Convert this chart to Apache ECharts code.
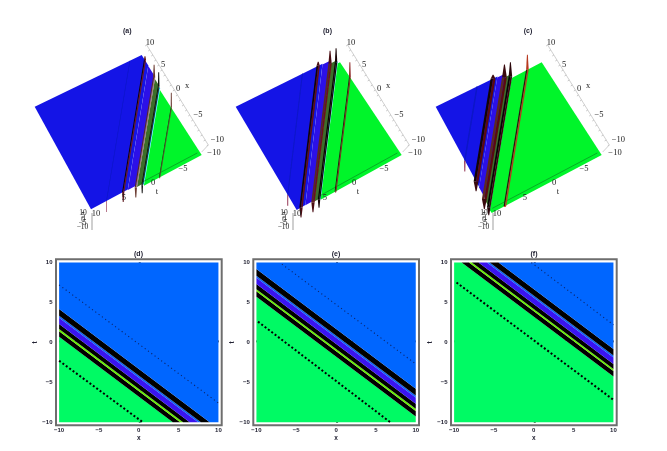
<!DOCTYPE html>
<html><head><meta charset="utf-8">
<style>html,body{margin:0;padding:0;background:#fff}#c{width:667px;height:451px}</style>
<script src="https://cdn.jsdelivr.net/npm/echarts@6/dist/echarts.min.js"></script>
</head><body><div id="c"></div>
<script>
// ---- data ----
const surfaceTitles = ['(a)','(b)','(c)'];
const contourTitles = ['(d)','(e)','(f)'];
const tickLabels = [-10,-5,0,5,10];
const allTicks = [-10,-9,-8,-7,-6,-5,-4,-3,-2,-1,0,1,2,3,4,5,6,7,8,9,10];
const waveSlope = -0.75;
const waveShift = [0,5,10];
// contour bands: t at x=-10 for panel (d)
const bandLow  = [-60,0.71,1.40,1.67,2.30,3.10,3.35,4.18];
const bandHigh = [0.71,1.40,1.67,2.30,3.10,3.35,4.18,60];
const bandColor= ['#00fa64','#000000','#66f000','#000000','#3a14f0','#0a62f5','#000000','#0066ff'];
const dotUpper = [[[-10,7.2],[10,-7.6]],[[-6.8,9.8],[10,-2.7]],[[-0.3,10],[10,2.2]]];
const dotLower = [[[-10,-2.3],[0.5,-10]],[[-9.8,2.6],[6.8,-10]],[[-9.7,7.5],[10,-7.2]]];
// surface regions
const surfLow  = [-60,0.45,0.71,1.70,3.35];
const surfHigh = [0.45,0.71,1.70,3.35,60];
const surfLift = [0,0.3,0.5,0.9,1];
const surfColor= ['#00f52a','#10c8f0','#3c6e2a','#2c10e8','#1414e6'];
// crests on the surface
const crestT     = [7.2,4.18,1.9,0.75,-2.4];
const crestLift  = [1,1,0.5,0.3,0];
const crestLeft  = ['#0c18c0','#120404','#5a2a22','#050505','#2a1210'];
const crestRight = [
 ['#0c18c0','#701a20','#a08070','#101010','#6a3a30'],
 ['#0c18c0','#601016','#6a1418','#180406','#8a2020'],
 ['#0c18c0','#5a0a10','#5a0a10','#3a080c','#b83a20']];
const crestTip   = [
 ['#8a2244','#5a1218','#6a3a30','#101010','#6a3a30'],
 ['#8a2244','#4a0c12','#4a0c12','#180406','#8a2020'],
 ['#8a2244','#3a0a0e','#3a0a0e','#2a060a','#b83a20']];
const crestWidth = [0.3,1.1,1.1,0.8,0.6];
const crestRise  = [0,4,13,14,15];
const crestDrop  = [11,10,10,8,1];

// ---- view setup ----
const greenCorners = [
 {R:[201.7,155],T:[141.7,61.7],B:[91,213.7],L:[31,120.4]},
 {R:[401.7,155],T:[340,62.3],B:[296.7,213],L:[235,120.3]},
 {R:[601.7,155],T:[541.7,62.3],B:[491.7,213],L:[431.7,120.3]}];
const blueCorners = [
 {R:[201.7,150],T:[141.7,55],B:[91,209.3],L:[34.7,106.7]},
 {R:[401.7,150],T:[340,55],B:[296.7,210],L:[235.7,106.7]},
 {R:[601.7,150],T:[541.7,55],B:[491.7,210],L:[435.7,106.7]}];
const panelShift = [0,201,401];
const crestScale = [1,1.5,2.2];
const titleX3d = [127.3,327.5,528];
const titleX2d = [138.5,336,534];
const grid2d = [[56,165.7],[253.3,165.7],[451,165.7]];

function project(p,x,t,lift){
  const u=(x+10)/20,v=(t+10)/20;
  const mix=c=>[0,1].map(i=>(1-v)*((1-u)*c.R[i]+u*c.T[i])+v*((1-u)*c.B[i]+u*c.L[i]));
  const g=mix(greenCorners[p]),b=mix(blueCorners[p]);
  return [g[0]+(b[0]-g[0])*lift,g[1]+(b[1]-g[1])*lift];
}
function clipHalf(pts,inside,cross){
  const out=[];
  pts.forEach((a,i)=>{
    const b=pts[(i+1)%pts.length],ia=inside(a),ib=inside(b);
    if(ia)out.push(a);
    if(ia!==ib)out.push(cross(a,b));
  });
  return out;
}
function clipBox(pts){
  const lim=[[0,-10,1],[0,10,-1],[1,-10,1],[1,10,-1]];
  lim.forEach(([k,val,s])=>{
    if(!pts.length)return;
    pts=clipHalf(pts,a=>(a[k]-val)*s>=0,(a,b)=>{
      const f=(val-a[k])/(b[k]-a[k]);
      return [a[0]+(b[0]-a[0])*f,a[1]+(b[1]-a[1])*f];
    });
  });
  return pts;
}
function bandPolygon(lo,hi,shift){
  const at=(a,x)=>a+shift+waveSlope*(x+10);
  const xa=-60,xb=60;
  return clipBox([[xa,at(lo,xa)],[xb,at(lo,xb)],[xb,at(hi,xb)],[xa,at(hi,xa)]]);
}
function crestRange(a){ // x range of t=a+slope(x+10) inside the square
  const xAt=t=>(t-a)/waveSlope-10;
  return [Math.max(-10,xAt(10)),Math.min(10,xAt(-10))];
}

const series=[],grids=[],xAxes=[],yAxes=[],titles=[];
const FONT2D='"Liberation Sans"',FONT3D='"Liberation Serif"';
// contour panels
waveShift.forEach((shift,p)=>{
  grids.push({left:grid2d[p][0],width:grid2d[p][1],top:259.3,height:166,show:true,backgroundColor:'#fff',borderColor:'#6e6e6e',borderWidth:2});
  const ax=(name,gap,rot,margin)=>({type:'value',gridIndex:p,min:-10.39,max:10.41,name,nameLocation:'middle',nameGap:gap,nameRotate:rot,
    nameTextStyle:{fontFamily:FONT2D,fontSize:6.5,fontWeight:'bold',color:'#223'},
    splitLine:{show:false},axisLine:{show:false},
    axisTick:{show:true,inside:true,length:2,customValues:allTicks,lineStyle:{color:'#666',width:1}},
    axisLabel:{show:true,margin,customValues:tickLabels,fontFamily:FONT2D,fontSize:6,fontWeight:'bold',color:'#223',
      formatter:v=>String(v).replace('-','\u2212')}});
  xAxes.push(ax('x',9.5,0,2));
  yAxes.push(ax('t',15,90,3.5));
  series.push({type:'custom',xAxisIndex:p,yAxisIndex:p,silent:true,animation:false,z:2,
    data:bandLow.map((l,i)=>[l,bandHigh[i],i]),
    renderItem:(params,api)=>{
      const poly=bandPolygon(api.value(0),api.value(1),shift);
      if(poly.length<3)return null;
      return {type:'polygon',shape:{points:poly.map(q=>api.coord(q))},style:{fill:bandColor[api.value(2)]}};
    }});
  series.push({type:'line',xAxisIndex:p,yAxisIndex:p,data:dotUpper[p],symbol:'none',silent:true,animation:false,z:3,
    lineStyle:{color:'#0c2468',width:1.1,type:[1.1,3]}});
  series.push({type:'line',xAxisIndex:p,yAxisIndex:p,data:dotLower[p],symbol:'none',silent:true,animation:false,z:3,
    lineStyle:{color:'#000',width:2,type:[2,2.2]}});
  titles.push({text:contourTitles[p],left:titleX2d[p],top:250.5,padding:0,textAlign:'center',
    textStyle:{fontFamily:FONT2D,fontSize:7,fontWeight:'bold',color:'#223'}});
});
// canvas-sized hidden grid that hosts the projected surfaces
const G=3;
grids.push({left:0,top:0,width:667,height:451,show:false});
xAxes.push({type:'value',gridIndex:G,min:0,max:667,show:false});
yAxes.push({type:'value',gridIndex:G,min:0,max:451,inverse:true,show:false});

const xLabelOff=[[3.3,-2.7],[1,-5],[0.5,-6],[5,-5],[9,-5]];   // for x = 10,5,0,-5,-10
const tLabelOff=[[12.3,-2],[9,-0.7],[6.7,-1.3],[5.3,-1],[5,0]];// for t = -10..10
const xTickVals=[10,5,0,-5,-10];
const zTickVals=[10,5,0,-5,-10];

waveShift.forEach((shift,p)=>{
  const sx=panelShift[p];
  // axis line and ticks (under the surface)
  series.push({type:'custom',xAxisIndex:G,yAxisIndex:G,silent:true,animation:false,z:2,clip:false,
    data:allTicks.map(v=>[v]),
    renderItem:(params,api)=>{
      const v=api.value(0),f=(10-v)/20;
      const px=146.7+sx+f*61.6,py=45+f*100;
      const p0=api.coord([px,py]),p1=api.coord([px-1.6,py+1]);
      const els=[{type:'line',shape:{x1:p0[0],y1:p0[1],x2:p1[0],y2:p1[1]},style:{stroke:'#b0b0b0',lineWidth:.7}}];
      if(params.dataIndex===0){
        const a=api.coord([146.7+sx,45]),b=api.coord([208.3+sx,145]);
        els.push({type:'line',shape:{x1:a[0],y1:a[1],x2:b[0],y2:b[1]},style:{stroke:'#c4c4c4',lineWidth:.8}});
        const d=api.coord([201.7+sx,152]);
        els.push({type:'line',shape:{x1:b[0],y1:b[1],x2:d[0],y2:d[1]},style:{stroke:'#c4c4c4',lineWidth:.8}});
        const e=api.coord([92+sx,213]),g=api.coord([92+sx,230]);
        els.push({type:'line',shape:{x1:e[0],y1:e[1],x2:g[0],y2:g[1]},style:{stroke:'#cfcfcf',lineWidth:2}});
      }
      return {type:'group',children:els};
    }});
  // surface regions
  series.push({type:'custom',xAxisIndex:G,yAxisIndex:G,silent:true,animation:false,z:3,clip:false,
    data:surfLow.map((l,i)=>[l,surfHigh[i],i]),
    renderItem:(params,api)=>{
      const i=api.value(2),poly=bandPolygon(api.value(0),api.value(1),shift);
      if(poly.length<3)return null;
      return {type:'polygon',shape:{points:poly.map(q=>api.coord(project(p,q[0],q[1],surfLift[i])))},
        style:{fill:surfColor[i]}};
    }});
  // thin mesh line near the lower edge of the green sheet
  series.push({type:'custom',xAxisIndex:G,yAxisIndex:G,silent:true,animation:false,z:4,clip:false,
    data:[[-9.3,-9.6,-9.3,Math.min(9.5,0.7+shift)]],
    renderItem:(params,api)=>{
      const a=api.coord(project(p,api.value(0),api.value(1),0)),b=api.coord(project(p,api.value(2),api.value(3),0));
      return {type:'line',shape:{x1:a[0],y1:a[1],x2:b[0],y2:b[1]},style:{stroke:'#0a7a20',lineWidth:.6}};
    }});
  // crests
  series.push({type:'custom',xAxisIndex:G,yAxisIndex:G,silent:true,animation:false,z:5,clip:false,
    data:crestT.map((t,i)=>[t,i]),
    renderItem:(params,api)=>{
      const i=api.value(1),a=api.value(0)+shift;
      const [x1,x2]=crestRange(a);
      if(x2<=x1)return null;
      const tAt=x=>a+waveSlope*(x+10);
      const lift=crestLift[i],w=crestWidth[i]*crestScale[p];
      const A=project(p,x1,tAt(x1),lift),B=project(p,x2,tAt(x2),lift);
      const A2=[A[0],A[1]+crestDrop[i]],B2=[B[0],B[1]-crestRise[i]];
      const ribbon=(U,V,off0,off1,color)=>({type:'polygon',
        shape:{points:[[U[0]+off0,U[1]],[V[0]+off0,V[1]],[V[0]+off1,V[1]],[U[0]+off1,U[1]]].map(q=>api.coord(q))},style:{fill:color}});
      const tip=(U,V,color)=>({type:'polygon',
        shape:{points:[[U[0]-w,U[1]],[U[0]+w,U[1]],[V[0]+Math.min(w,0.45),V[1]],[V[0]-Math.min(w,0.45),V[1]]].map(q=>api.coord(q))},style:{fill:color}});
      return {type:'group',children:[
        tip(A,A2,crestTip[p][i]),
        tip(B,B2,crestTip[p][i]),
        ribbon(A,B,-w,0,crestLeft[i]),
        ribbon(A,B,0,w,crestRight[p][i])]};
    }});
  // axis labels
  const txt=(api,x,y,s,size)=>{const c=api.coord([x+sx,y]);
    return {type:'text',x:c[0],y:c[1],style:{text:s,fontFamily:FONT3D,fontSize:size||8.5,fill:'#222',textAlign:'center',textVerticalAlign:'middle'}};};
  series.push({type:'custom',xAxisIndex:G,yAxisIndex:G,silent:true,animation:false,z:6,clip:false,
    data:xTickVals.map((v,i)=>[v,i]),
    renderItem:(params,api)=>{
      const v=api.value(0),i=api.value(1),f=(10-v)/20;
      return txt(api,146.7+f*61.6+xLabelOff[i][0],45+f*100+xLabelOff[i][1],String(v).replace('-','\u2212'));
    }});
  series.push({type:'custom',xAxisIndex:G,yAxisIndex:G,silent:true,animation:false,z:6,clip:false,
    data:tickLabels.map((v,i)=>[v,i]),
    renderItem:(params,api)=>{
      const v=api.value(0),i=api.value(1),f=(v+10)/20;
      return txt(api,201.7+f*(91-201.7)+tLabelOff[i][0],155+f*(213.7-155)+tLabelOff[i][1],String(v).replace('-','\u2212'));
    }});
  series.push({type:'custom',xAxisIndex:G,yAxisIndex:G,silent:true,animation:false,z:6,clip:false,
    data:zTickVals.map((v,i)=>[v,i]),
    renderItem:(params,api)=>{
      const v=api.value(0),i=api.value(1);
      return txt(api,83-(v<0?0.5:0),213+i*3.4,String(v).replace('-','\u2212'),7.5);
    }});
  series.push({type:'custom',xAxisIndex:G,yAxisIndex:G,silent:true,animation:false,z:6,clip:false,
    data:[[187,86,0],[157,192,1]],
    renderItem:(params,api)=>txt(api,api.value(0),api.value(1),['x','t'][api.value(2)])});
  titles.push({text:surfaceTitles[p],left:titleX3d[p],top:27.5,padding:0,textAlign:'center',
    textStyle:{fontFamily:FONT2D,fontSize:7,fontWeight:'bold',color:'#223'}});
});

const chart=echarts.init(document.getElementById('c'),null,{renderer:'canvas'});
chart.setOption({animation:false,backgroundColor:'#fff',title:titles,grid:grids,xAxis:xAxes,yAxis:yAxes,series});
</script></body></html>
